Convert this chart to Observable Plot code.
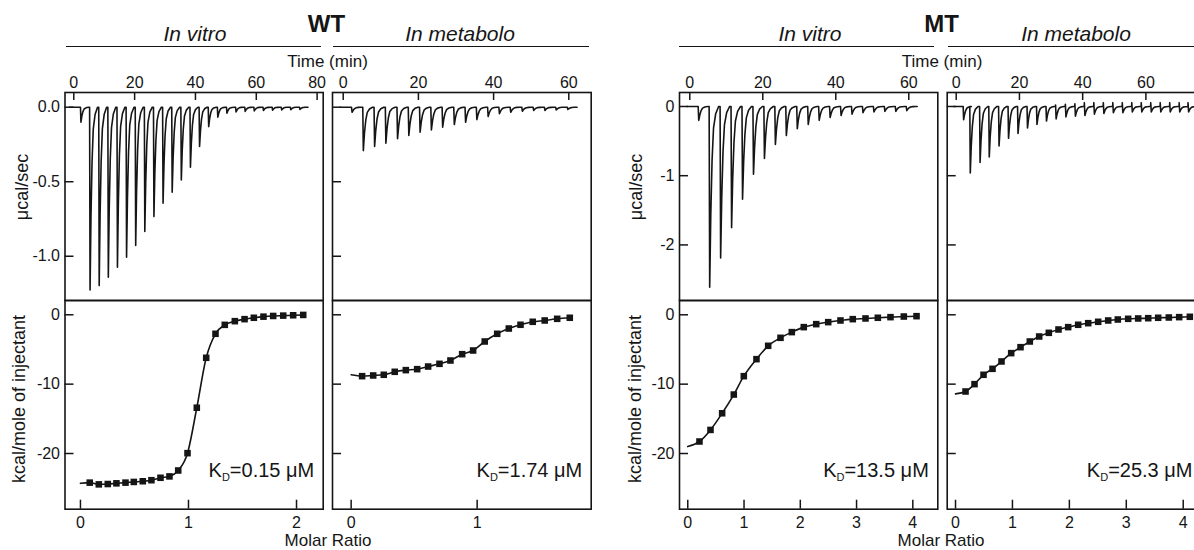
<!DOCTYPE html>
<html><head><meta charset="utf-8">
<script src="https://cdn.jsdelivr.net/npm/d3@7"></script>
<script src="https://cdn.jsdelivr.net/npm/@observablehq/plot@0.6"></script>
<style>
body{margin:0;background:#fff;}
#fig{position:relative;width:1194px;height:550px;overflow:hidden;font-family:"Liberation Sans",Arial,sans-serif;color:#151515;}
#fig svg{position:absolute;left:0;top:0;}
.lbl{position:absolute;white-space:nowrap;line-height:1;}
.hline{position:absolute;height:0;border-top:1.6px solid #151515;}
</style></head><body><div id="fig"></div>
<script>
// ---------- Thermograms (top row): injection times (min) and peak heights (µcal/sec) ----------
const wtVitroInjT = [2.2, 5.2, 8.2, 11.2, 14.2, 17.2, 20.2, 23.2, 26.2, 29.2, 32.2, 35.2, 38.2, 41.2, 44.2, 47.2, 50.2, 53.2, 56.2, 59.2, 62.2, 65.2, 68.2, 71.2, 74.2];
const wtVitroPeak = [-0.10, -1.226, -1.197, -1.141, -1.074, -1.007, -0.928, -0.834, -0.734, -0.644, -0.570, -0.488, -0.403, -0.264, -0.130, -0.067, -0.040, -0.032, -0.028, -0.025, -0.022, -0.020, -0.018, -0.016, -0.015];

const wtMetabInjT = [2.2, 5.2, 8.2, 11.2, 14.3, 17.3, 20.3, 23.3, 26.3, 29.4, 32.4, 35.4, 38.4, 41.4, 44.4, 47.5, 50.5, 53.5, 56.5, 59.6];
const wtMetabPeak = [-0.034, -0.291, -0.264, -0.241, -0.212, -0.190, -0.168, -0.152, -0.134, -0.116, -0.101, -0.083, -0.062, -0.044, -0.034, -0.027, -0.022, -0.022, -0.018, -0.015];

const mtVitroInjT = [2.3, 5.3, 8.3, 11.3, 14.3, 17.3, 20.3, 23.3, 26.3, 29.3, 32.3, 35.3, 38.3, 41.3, 44.3, 47.3, 50.3, 53.3, 56.3, 59.3];
const mtVitroPeak = [-0.20, -2.61, -2.19, -1.75, -1.34, -0.98, -0.75, -0.55, -0.42, -0.32, -0.26, -0.20, -0.16, -0.13, -0.11, -0.09, -0.08, -0.07, -0.07, -0.06];

const mtMetabInjT = [2.2, 4.3, 7.4, 10.3, 13.4, 16.4, 19.4, 22.4, 25.4, 28.4, 31.4, 34.5, 37.5, 40.5, 43.5, 46.5, 49.5, 52.5, 55.5, 58.5, 61.5, 64.5, 67.5, 70.5, 73.3, 76.3];
const mtMetabPeak = [-0.19, -0.96, -0.81, -0.73, -0.57, -0.46, -0.39, -0.31, -0.26, -0.21, -0.18, -0.15, -0.14, -0.13, -0.11, -0.10, -0.09, -0.09, -0.08, -0.08, -0.08, -0.08, -0.08, -0.08, -0.08, -0.08];
const mtMetabBlip = [0, 0, 0, 0, 0, 0, 0, 0, 0, 0, 0.02, 0.03, 0.04, 0.055, 0.055, 0.055, 0.055, 0.055, 0.055, 0.055, 0.055, 0.055, 0.055, 0.055, 0.055, 0.055];

// shape of one injection peak (minutes after injection, fraction of the peak height)
const spikeDt   = [0, 0.15, 0.45, 0.8, 1.2, 1.8, 2.6];
const spikeFrac = [0, 1, 0.6, 0.3, 0.12, 0.04, 0];

// ---------- Binding isotherms (bottom row): molar ratio and kcal/mole of injectant ----------
const wtVitroMR   = [0.086, 0.170, 0.253, 0.333, 0.417, 0.494, 0.577, 0.657, 0.741, 0.824, 0.905, 0.991, 1.077, 1.164, 1.250, 1.336, 1.429, 1.519, 1.605, 1.694, 1.784, 1.877, 1.969, 2.062];
const wtVitroKcal = [-24.2, -24.45, -24.4, -24.3, -24.2, -24.1, -24.0, -23.85, -23.5, -23.3, -22.45, -19.95, -13.4, -6.2, -2.74, -1.45, -0.92, -0.63, -0.43, -0.27, -0.17, -0.12, -0.07, -0.02];
const wtVitroFit0 = -24.3;

const wtMetabMR   = [0.087, 0.175, 0.259, 0.346, 0.434, 0.524, 0.611, 0.701, 0.788, 0.881, 0.968, 1.060, 1.159, 1.251, 1.344, 1.441, 1.536, 1.635, 1.735];
const wtMetabKcal = [-8.85, -8.75, -8.65, -8.22, -7.98, -7.84, -7.46, -7.07, -6.59, -5.68, -5.15, -3.85, -2.74, -1.98, -1.44, -1.01, -0.82, -0.58, -0.43];
const wtMetabFit0 = -8.65;

const mtVitroMR   = [0.208, 0.404, 0.611, 0.818, 0.996, 1.221, 1.429, 1.648, 1.849, 2.062, 2.283, 2.496, 2.714, 2.933, 3.159, 3.378, 3.603, 3.840, 4.066];
const mtVitroKcal = [-18.27, -16.6, -14.2, -11.5, -8.85, -6.4, -4.47, -3.32, -2.5, -1.78, -1.35, -1.06, -0.82, -0.63, -0.53, -0.43, -0.34, -0.25, -0.2];
const mtVitroFit0 = -19.0;

const mtMetabMR   = [0.176, 0.334, 0.492, 0.650, 0.808, 0.978, 1.142, 1.305, 1.470, 1.639, 1.809, 1.979, 2.155, 2.331, 2.506, 2.682, 2.851, 3.033, 3.209, 3.385, 3.560, 3.747, 3.929, 4.116];
const mtMetabKcal = [-11.06, -10.0, -8.65, -7.79, -6.73, -5.53, -4.67, -3.85, -3.13, -2.6, -2.12, -1.78, -1.44, -1.21, -1.01, -0.82, -0.68, -0.58, -0.53, -0.49, -0.43, -0.39, -0.34, -0.29];
const mtMetabFit0 = -11.4;

// ---------- Labels ----------
const kdLabels = ["0.15", "1.74", "13.5", "25.3"];
const timeTicksWTv = [0, 20, 40, 60, 80];
const timeTicksWTm = [0, 20, 40, 60];
const timeTicksMTv = [0, 20, 40, 60];
const timeTicksMTm = [0, 20, 40, 60];
const rateTicksWT = [0, -0.5, -1.0];
const rateTicksMT = [0, -1, -2];
const kcalTicks = [0, -10, -20];
const mrTicksWTv = [0, 1, 2];
const mrTicksWTm = [0, 1];
const mrTicksMT = [0, 1, 2, 3, 4];

// ---------- helpers ----------
const fig = document.getElementById("fig");
const INK = "#151515";

function thermoRows(injT, peaks, blips, t0, t1) {
  const rows = [{t: t0, v: 0}];
  injT.forEach((t, i) => {
    const b = blips ? blips[i] : 0;
    rows.push({t, v: 0});
    if (b) rows.push({t: t + 0.03, v: b});
    spikeDt.forEach((dt, k) => {
      if (k > 0) rows.push({t: t + dt + (b ? 0.06 : 0), v: peaks[i] * spikeFrac[k]});
    });
  });
  rows.push({t: t1, v: 0});
  return rows;
}

function isoRows(mr, kcal) { return mr.map((m, i) => ({m, k: kcal[i]})); }

const TOP = [92, 300], BOT = [300, 508.7];

function makePlot({box, rows, xDomain, yDomain, marks, svgW = 1194}) {
  const svg = Plot.plot({
    width: svgW, height: 550,
    marginLeft: box[0], marginRight: svgW - box[1], marginTop: rows[0], marginBottom: 550 - rows[1],
    x: {domain: xDomain, axis: null},
    y: {domain: yDomain, axis: null},
    style: {background: "transparent", fontFamily: "'Liberation Sans', Arial, sans-serif", fontSize: "16px", color: INK, maxWidth: "none", overflow: "visible"},
    marks
  });
  svg.setAttribute("width", svgW);
  fig.appendChild(svg);
  return svg;
}

function topPanel({box, xDomain, yDomain, data, xTicks, yTicks, yFormat}) {
  const fw = box[1] - box[0], fh = TOP[1] - TOP[0];
  const marks = [
    Plot.line(data, {x: "t", y: "v", stroke: INK, strokeWidth: 1.6}),
    Plot.tickX(xTicks, {x: d => d, insetBottom: fh - 8, stroke: INK, strokeWidth: 1.5}),
    Plot.tickY(yTicks, {y: d => d, insetRight: fw - 9, stroke: INK, strokeWidth: 1.5}),
    Plot.axisX({anchor: "top", ticks: xTicks, tickSize: 0, tickPadding: 5, tickFormat: d => String(d), label: null, fill: INK}),
    Plot.frame({stroke: INK, strokeWidth: 1.6})
  ];
  if (yFormat) marks.push(Plot.axisY({anchor: "left", ticks: yTicks, tickSize: 0, tickPadding: 5, tickFormat: yFormat, label: null, fill: INK}));
  return {box, rows: TOP, xDomain, yDomain, marks};
}

function botPanel({box, xDomain, data, fit0, xTicks, yLabels, kd, kdDx = -9}) {
  const fw = box[1] - box[0], fh = BOT[1] - BOT[0];
  const fitData = [{m: 0, k: fit0}, ...data];
  const marks = [
    Plot.line(fitData, {x: "m", y: "k", curve: "monotone-x", stroke: INK, strokeWidth: 1.6}),
    Plot.dot(data, {x: "m", y: "k", symbol: "square", r: 3.7, fill: INK, stroke: null}),
    Plot.tickX(xTicks, {x: d => d, insetTop: fh - 9, stroke: INK, strokeWidth: 1.5}),
    Plot.tickY(kcalTicks, {y: d => d, insetRight: fw - 9, stroke: INK, strokeWidth: 1.5}),
    Plot.axisX({anchor: "bottom", ticks: xTicks, tickSize: 0, tickPadding: 7, tickFormat: d => String(d), label: null, fill: INK}),
    Plot.text(["KD=" + kd + " \u03bcM"], {frameAnchor: "bottom-right", dx: kdDx, dy: -32, textAnchor: "end", fontSize: 20, fill: INK}),
    Plot.frame({stroke: INK, strokeWidth: 1.6})
  ];
  if (yLabels) marks.push(Plot.axisY({anchor: "left", ticks: kcalTicks, tickSize: 0, tickPadding: 5, tickFormat: d => String(d), label: null, fill: INK}));
  return {box, rows: BOT, xDomain, yDomain: [-28.03, 2.06], marks};
}

// ---------- panels ----------
const boxWTv = [64.5, 322.7], boxWTm = [332, 590.7], boxMTv = [679, 937.3], boxMTm = [946.7, 1208];

makePlot(topPanel({box: boxWTv, xDomain: [-2.89, 82.0], yDomain: [-1.297, 0.0987],
  data: thermoRows(wtVitroInjT, wtVitroPeak, null, -1.4, 77), xTicks: timeTicksWTv, yTicks: rateTicksWT, yFormat: d => d.toFixed(1)}));
makePlot(topPanel({box: boxWTm, xDomain: [-2.85, 65.96], yDomain: [-1.297, 0.0987],
  data: thermoRows(wtMetabInjT, wtMetabPeak, null, -0.8, 62.2), xTicks: timeTicksWTm, yTicks: rateTicksWT}));
makePlot(topPanel({box: boxMTv, xDomain: [-2.82, 67.95], yDomain: [-2.803, 0.202],
  data: thermoRows(mtVitroInjT, mtVitroPeak, null, -0.8, 62.3), xTicks: timeTicksMTv, yTicks: rateTicksMT, yFormat: d => String(d)}));
const mtmTop = topPanel({box: boxMTm, xDomain: [-2.85, 79.8], yDomain: [-2.803, 0.202],
  data: thermoRows(mtMetabInjT, mtMetabPeak, mtMetabBlip, -0.8, 79), xTicks: timeTicksMTm, yTicks: rateTicksMT});
mtmTop.svgW = 1230; makePlot(mtmTop);

makePlot(botPanel({box: boxWTv, xDomain: [-0.143, 2.247], data: isoRows(wtVitroMR, wtVitroKcal), fit0: wtVitroFit0, xTicks: mrTicksWTv, yLabels: true, kd: kdLabels[0]}));
makePlot(botPanel({box: boxWTm, xDomain: [-0.148, 1.905], data: isoRows(wtMetabMR, wtMetabKcal), fit0: wtMetabFit0, xTicks: mrTicksWTm, yLabels: false, kd: kdLabels[1]}));
makePlot(botPanel({box: boxMTv, xDomain: [-0.147, 4.444], data: isoRows(mtVitroMR, mtVitroKcal), fit0: mtVitroFit0, xTicks: mrTicksMT, yLabels: true, kd: kdLabels[2]}));
const mtmBot = botPanel({box: boxMTm, xDomain: [-0.146, 4.444], data: isoRows(mtMetabMR, mtMetabKcal), fit0: mtMetabFit0, xTicks: mrTicksMT, yLabels: false, kd: kdLabels[3], kdDx: -16});
mtmBot.svgW = 1230; makePlot(mtmBot);

// K_D subscript
d3.select(fig).selectAll("text").each(function() {
  const t = this.textContent;
  if (t.startsWith("KD=")) {
    const s = d3.select(this);
    s.text(null);
    s.append("tspan").text("K");
    s.append("tspan").attr("font-size", 11).attr("dy", 4).text("D");
    s.append("tspan").attr("dy", -4).text(t.slice(2));
  }
});

// ---------- headers and axis titles ----------
function label(text, cx, cy, size, extra = "") {
  const d = document.createElement("div");
  d.className = "lbl";
  d.textContent = text;
  d.style.cssText += `left:${cx}px;top:${cy}px;font-size:${size}px;transform:translate(-50%,-50%) ${extra};`;
  fig.appendChild(d);
  return d;
}
function hline(x1, x2, y) {
  const d = document.createElement("div");
  d.className = "hline";
  d.style.cssText += `left:${x1}px;width:${x2 - x1}px;top:${y}px;`;
  fig.appendChild(d);
}
label("In vitro", 195, 33, 21).style.fontStyle = "italic";
label("In metabolo", 460, 33, 21).style.fontStyle = "italic";
label("In vitro", 810, 33, 21).style.fontStyle = "italic";
label("In metabolo", 1076, 33, 21).style.fontStyle = "italic";
hline(66, 321, 45.5); hline(333, 589, 45.5); hline(679, 934, 45.5); hline(948, 1194, 45.5);
label("WT", 326.5, 24, 24).style.fontWeight = "bold";
label("MT", 941.5, 24, 24).style.fontWeight = "bold";
label("Time (min)", 327.5, 61, 17);
label("Time (min)", 942, 61, 17);
label("Molar Ratio", 328, 540, 17);
label("Molar Ratio", 941, 540, 17);
label("\u03bccal/sec", 22, 187, 18, "rotate(-90deg)");
label("\u03bccal/sec", 636, 187, 18, "rotate(-90deg)");
label("kcal/mole of injectant", 19, 399, 18, "rotate(-90deg)");
label("kcal/mole of injectant", 634.5, 399, 18, "rotate(-90deg)");
</script></body></html>
